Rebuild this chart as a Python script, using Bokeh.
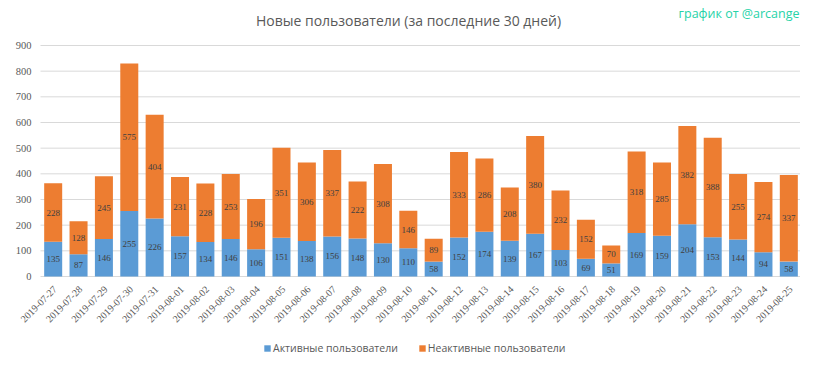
import math
from bokeh.plotting import figure
from bokeh.models import (ColumnDataSource, Range1d, LabelSet, Label, Legend,
                          LegendItem)
from bokeh.embed import file_html
from bokeh.resources import INLINE

dates = ["2019-07-27", "2019-07-28", "2019-07-29", "2019-07-30", "2019-07-31",
         "2019-08-01", "2019-08-02", "2019-08-03", "2019-08-04", "2019-08-05",
         "2019-08-06", "2019-08-07", "2019-08-08", "2019-08-09", "2019-08-10",
         "2019-08-11", "2019-08-12", "2019-08-13", "2019-08-14", "2019-08-15",
         "2019-08-16", "2019-08-17", "2019-08-18", "2019-08-19", "2019-08-20",
         "2019-08-21", "2019-08-22", "2019-08-23", "2019-08-24", "2019-08-25"]
active = [135, 87, 146, 255, 226, 157, 134, 146, 106, 151, 138, 156, 148, 130, 110,
          58, 152, 174, 139, 167, 103, 69, 51, 169, 159, 204, 153, 144, 94, 58]
inactive = [228, 128, 245, 575, 404, 231, 228, 253, 196, 351, 306, 337, 222, 308, 146,
            89, 333, 286, 208, 380, 232, 152, 70, 318, 285, 382, 388, 255, 274, 337]
y_ticks = [0, 100, 200, 300, 400, 500, 600, 700, 800, 900]

title_text = "Новые пользователи (за последние 30 дней)"
credit_text = "график от @arcange"
series_names = ["Активные пользователи", "Неактивные пользователи"]
colors = ["#5B9BD5", "#ED7D31"]
FONT = "Open Sans"

# layout in pixels: canvas 800x355; plot area spans columns 40..801 and
# rows 45 (value 900) .. 276 (value 0)
W, H = 800, 355
PA_LEFT, PA_RIGHT = 40, 801
Y0_PX, YMAX_PX = 276, 45
n = len(dates)
cw = (PA_RIGHT - PA_LEFT) / n
x_lo = -0.5 - PA_LEFT / cw
x_hi = x_lo + W / cw
YMAX = y_ticks[-1]
ppu = (Y0_PX - YMAX_PX) / YMAX
y_lo = -(H - Y0_PX) / ppu
y_hi = YMAX + YMAX_PX / ppu

idx = list(range(n))
src = ColumnDataSource(dict(
    xi=idx,
    date=dates,
    active=active,
    inactive=inactive,
    zero=[0] * n,
    active_mid=[a / 2 for a in active],
    inactive_mid=[a + i / 2 for a, i in zip(active, inactive)],
    active_lbl=[str(a) for a in active],
    inactive_lbl=[str(i) for i in inactive],
))
grid_src = ColumnDataSource(dict(
    y=y_ticks,
    x0=[-0.5] * len(y_ticks),
    x1=[n - 0.5] * len(y_ticks),
    lbl=[str(t) for t in y_ticks],
))

p = figure(width=W, height=H, x_range=Range1d(x_lo, x_hi),
           y_range=Range1d(y_lo, y_hi), output_backend="svg", toolbar_location=None,
           min_border_left=0, min_border_right=0, min_border_top=0,
           min_border_bottom=0)
p.frame_width = W
p.frame_height = H
p.outline_line_color = None
p.background_fill_color = "white"
p.border_fill_color = "white"
p.xaxis.visible = False
p.yaxis.visible = False
p.xgrid.visible = False
p.ygrid.visible = False

# horizontal grid lines (value ticks)
p.segment(x0="x0", x1="x1", y0="y", y1="y", source=grid_src,
          line_color="#D9D9D9", line_width=1)

r = p.vbar_stack(["active", "inactive"], x="xi", width=0.71, color=colors,
                 line_color=None, source=src)

# data labels
for ycol, tcol in [("active_mid", "active_lbl"), ("inactive_mid", "inactive_lbl")]:
    p.add_layout(LabelSet(x="xi", y=ycol, text=tcol, source=src,
                          text_align="center", text_baseline="middle",
                          text_font=FONT, text_font_size="9px",
                          text_color="#404040"))

# value tick labels
p.add_layout(LabelSet(x=PA_LEFT - 9, x_units="screen", y="y", text="lbl",
                      source=grid_src, text_align="right", text_baseline="middle",
                      text_font=FONT, text_font_size="10.5px",
                      text_color="#595959"))

# category labels (rotated 45 degrees) under the value 0 line
p.add_layout(LabelSet(x="xi", y="zero", text="date", source=src,
                      angle=math.pi / 4, text_align="right", text_baseline="middle",
                      x_offset=2, y_offset=-11,
                      text_font=FONT, text_font_size="10px", text_color="#595959"))

# title & credit (screen units from the bottom-left corner)
p.add_layout(Label(x=408, y=H - 20, x_units="screen", y_units="screen",
                   text=title_text, text_align="center", text_baseline="middle",
                   text_font=FONT, text_font_size="14px", text_color="#595959"))
p.add_layout(Label(x=W - 1, y=H - 13, x_units="screen", y_units="screen",
                   text=credit_text, text_align="right", text_baseline="middle",
                   text_font=FONT, text_font_size="12.5px", text_color="#26D3A8"))

# legend
legend = Legend(items=[LegendItem(label=series_names[0], renderers=[r[0]]),
                       LegendItem(label=series_names[1], renderers=[r[1]])],
                orientation="horizontal", location=(263, 0),
                label_text_font=FONT, label_text_font_size="10.5px",
                label_text_color="#595959", glyph_width=8, glyph_height=8,
                label_standoff=2, spacing=20, padding=0, margin=0,
                border_line_color=None, background_fill_alpha=0,
                label_height=12)
p.add_layout(legend, "center")

open("out.html", "w").write(file_html(p, INLINE))
